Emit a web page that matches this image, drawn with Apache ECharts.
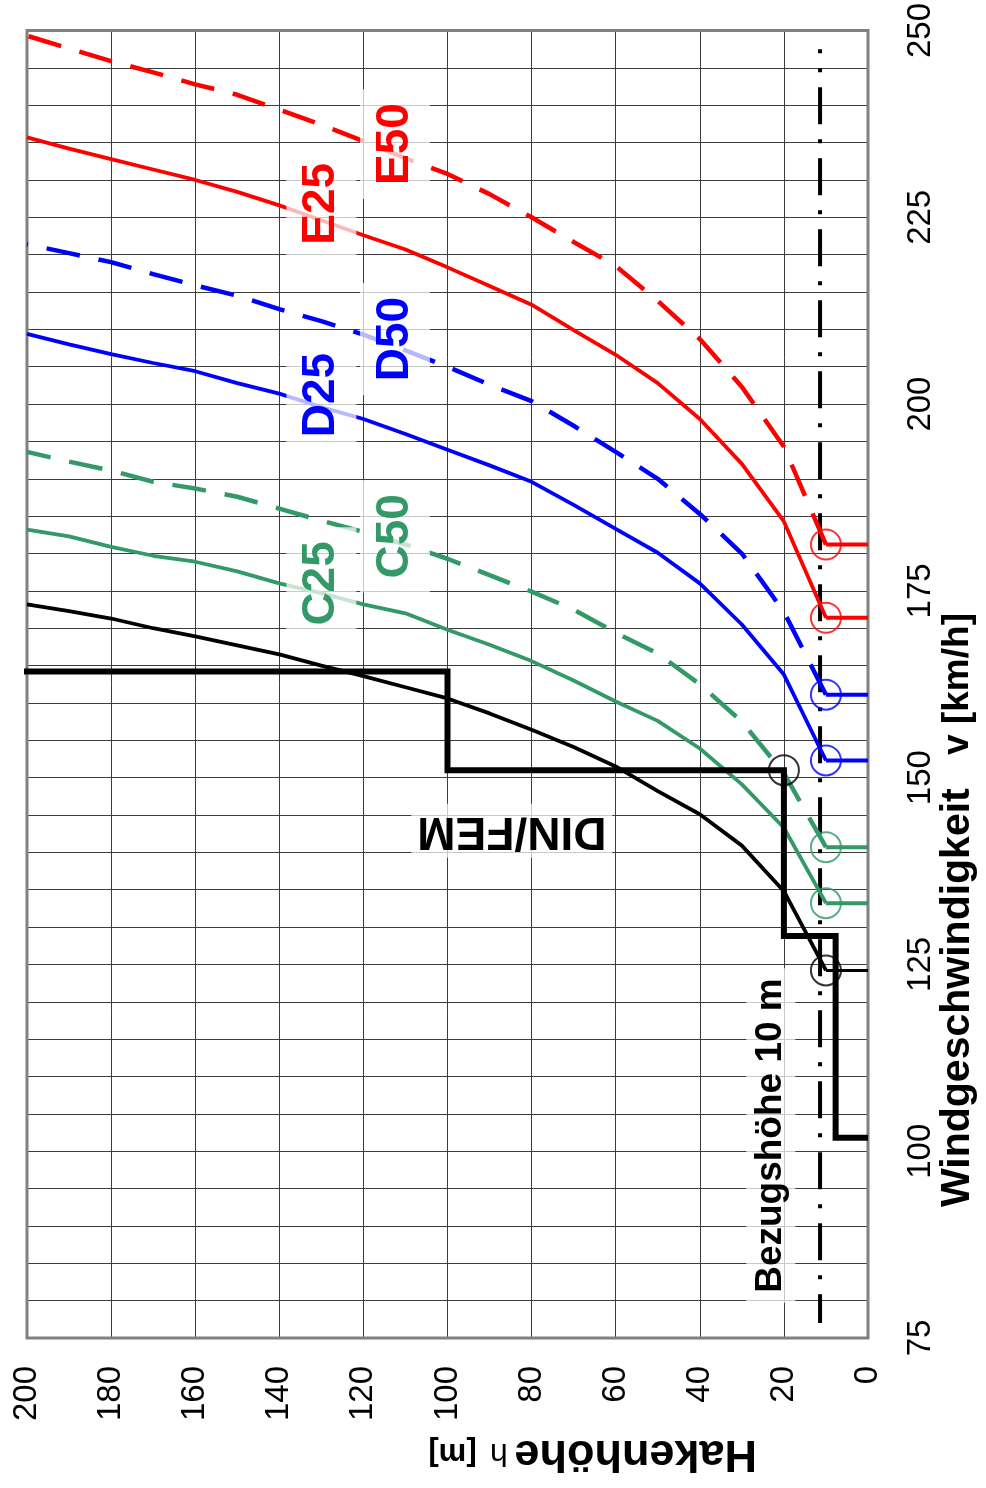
<!DOCTYPE html>
<html><head><meta charset="utf-8">
<script src="https://cdn.jsdelivr.net/npm/echarts@6/dist/echarts.min.js"></script>
<style>html,body{margin:0;padding:0;background:#fff}#c{width:986px;height:1488px}</style>
</head><body><div id="c"></div>
<script>
// ---- data ----
const heights = [10,20,30,40,50,60,70,80,90,100,110,120,130,140,150,160,170,180,190,200];
const E25 = [171.4,184.3,192.0,198.0,202.8,206.6,209.9,213.3,215.8,218.3,220.7,222.6,224.6,226.6,228.4,230.0,231.4,232.8,234.2,235.7];
const E50 = [181.2,194.3,202.3,208.7,213.8,218.5,221.7,225.0,228.1,230.8,232.9,235.2,237.4,239.4,241.4,242.8,244.4,245.9,247.6,249.3];
const D25 = [152.3,163.8,170.5,176.0,180.1,183.3,186.5,189.6,191.8,193.9,196.0,198.0,199.6,201.4,202.8,204.4,205.5,206.7,208.0,209.4];
const D50 = [161.1,172.2,180.0,185.3,190.0,193.6,197.1,200.4,202.6,205.0,207.2,209.3,211.1,212.7,214.5,215.9,217.4,219.0,220.2,221.4];
const C25 = [133.2,143.3,149.1,153.9,157.6,160.2,163.0,165.6,167.8,169.8,172.0,173.2,174.7,176.0,177.6,178.9,179.7,180.9,182.3,183.2];
const C50 = [140.7,150.6,157.5,162.5,166.6,169.4,172.5,174.9,177.1,179.3,181.2,182.9,184.4,186.0,187.6,188.7,189.6,191.1,192.3,193.6];
const REF = [124.2,134.8,140.9,145.1,148.2,151.5,154.1,156.4,158.6,160.6,162.1,163.6,165.0,166.5,167.7,168.9,170.0,171.3,172.3,173.2];
const dinHeights = [0,7.7,7.7,20,20,100,100,204];
const dinSpeeds  = [101.8,101.8,128.8,128.8,151.0,151.0,164.2,164.2];
const dinMarkerIndex = 4; // corner at h=20, v=151
const refLineHeight = 11.4;
const refLineSpeeds = [247.5, 77];
const hTicks = [0,20,40,60,80,100,120,140,160,180,200];
const vTicks = [75,100,125,150,175,200,225,250];
const labelTexts = ['E25','E50','D25','D50','C25','C50','DIN/FEM','Bezugshöhe 10 m'];

// ---- styles ----
const RED = '#ff0000', BLUE = '#0000ff', GREEN = '#339966', BLACK = '#000000';
const FONT = '"Liberation Sans", Arial, sans-serif';
const FAM = 'Liberation Sans';
const gridLine = {color:'#3c3c3c', width:1};

function pts(arr){ return heights.map((h,i)=>[h, arr[i]]); }
function leg(arr, color, w){
  return {type:'line', data:[[0,arr[0]],[heights[0],arr[0]]], symbol:'none', silent:true,
          lineStyle:{color, width:w, type:'solid'}, z:4};
}
function curve(name, arr, color, dashed){
  return {type:'line', name, data:pts(arr), symbol:'none', silent:true,
          lineStyle:{color, width: dashed?4.5:3.8, type: dashed?[34,19]:'solid', cap:'butt'}, z:4};
}
function marker(pt, color){
  return {type:'scatter', data:[pt], symbol:'circle', symbolSize:30, silent:true,
          itemStyle:{color:'rgba(0,0,0,0)', borderColor:color, borderWidth:2}, z:6};
}

const curves = [
  ['E25',E25,RED,false],['E50',E50,RED,true],
  ['D25',D25,BLUE,false],['D50',D50,BLUE,true],
  ['C25',C25,GREEN,false],['C50',C50,GREEN,true],
  ['REF',REF,BLACK,false]
];

const series = [];
curves.forEach(c=>{
  series.push(curve(c[0], c[1], c[2], c[3]));
  series.push(leg(c[1], c[2], c[0]==='REF'?3:4));
  series.push(marker([heights[0], c[1][0]], c[2]));
});
series.push({type:'line', name:'DIN/FEM', data:dinHeights.map((h,i)=>[h,dinSpeeds[i]]), symbol:'none', clip:false, silent:true,
  lineStyle:{color:BLACK, width:6, join:'miter', cap:'butt'}, z:5});
series.push(marker([dinHeights[dinMarkerIndex], dinSpeeds[dinMarkerIndex]], BLACK));
series.push({type:'line', name:'Bezugshöhe', data:refLineSpeeds.map(v=>[refLineHeight, v]), symbol:'none', silent:true,
  lineStyle:{color:BLACK, width:4, type:[37,15,4,15], dashOffset:33, cap:'butt'}, z:3});

const chart = echarts.init(document.getElementById('c'), null, {renderer:'canvas'});
chart.setOption({
  animation:false,
  backgroundColor:'#ffffff',
  grid:{left:27, right:118, top:27, bottom:150, show:true, borderColor:'#808080', borderWidth:3, backgroundColor:'rgba(0,0,0,0)', z:2},
  xAxis:{type:'value', min:hTicks[0], max:hTicks[hTicks.length-1], interval:hTicks[1]-hTicks[0], inverse:true, position:'bottom',
    axisLine:{show:false}, axisTick:{show:false},
    splitLine:{show:true, lineStyle:gridLine},
    axisLabel:{rotate:90, margin:28, fontSize:33, color:'#000', fontFamily:FONT}},
  yAxis:{type:'value', position:'right', min:vTicks[0], max:vTicks[vTicks.length-1], interval:vTicks[1]-vTicks[0],
    axisLine:{show:false}, axisTick:{show:false},
    splitLine:{show:true, lineStyle:gridLine},
    minorTick:{show:false, splitNumber:5},
    minorSplitLine:{show:true, lineStyle:gridLine},
    axisLabel:{rotate:90, margin:36, fontSize:33, color:'#000', fontFamily:FONT}},
  series
});

// label anchors in data coordinates (h, v)
const labelAnchors = [[130,226.8],[112.5,234.8],[130,201.2],[112.5,208.7],[130,176.0],[112.5,182.3],[84.7,142.9],[23.1,102.1]];
const labelColors = [RED,RED,BLUE,BLUE,GREEN,GREEN,BLACK,BLACK];
const labelRot = [90,90,90,90,90,90,180,90];
const labelSize = [46,46,46,46,46,46,46,37];
const labelPad = [[12,14],[12,14],[12,14],[12,14],[12,14],[12,14],[4,6],[6,10]];

const graphic = labelTexts.map((t,i)=>{
  const p = chart.convertToPixel({gridIndex:0}, labelAnchors[i]);
  return {type:'text', x:p[0], y:p[1], rotation:labelRot[i]*Math.PI/180, z:100, silent:true,
    style:{text:t, fill:labelColors[i], font:'bold '+labelSize[i]+'px '+FONT, align:'center', verticalAlign:'middle',
      backgroundColor:'rgba(255,255,255,0.72)', padding:labelPad[i]}};
});
graphic.push({type:'text', x:757, y:1453, rotation:Math.PI, z:100, silent:true,
  style:{text:'{a|Hakenhöhe}{s| }{b|h}{s|  }{c|[m]}', align:'left', verticalAlign:'middle', fill:'#000',
    rich:{a:{fontSize:45, fontWeight:'bold', fontFamily:FAM, fill:'#000'},
          s:{fontSize:24, fontFamily:FAM},
          b:{fontSize:32, fontWeight:'normal', fontFamily:FAM, fill:'#000'},
          c:{fontSize:31, fontWeight:'bold', fontFamily:FAM, fill:'#000'}}}});
graphic.push({type:'text', x:958, y:1207, rotation:Math.PI/2, z:100, silent:true,
  style:{text:'{a|Windgeschwindigkeit}{s|     }{b|v [km/h]}', align:'left', verticalAlign:'middle', fill:'#000',
    rich:{a:{fontSize:41, fontWeight:'bold', fontFamily:FAM, fill:'#000'},
          s:{fontSize:24, fontFamily:FAM},
          b:{fontSize:37, fontWeight:'bold', fontFamily:FAM, fill:'#000'}}}});
chart.setOption({graphic});
</script></body></html>
